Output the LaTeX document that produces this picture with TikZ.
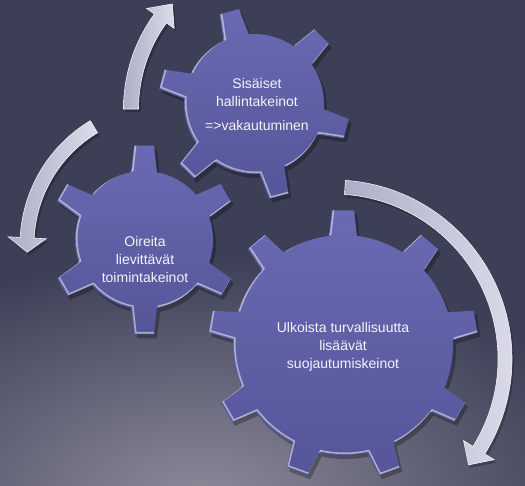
\documentclass[tikz,border=0pt]{standalone}
\usepackage{fontspec}
\setmainfont{Liberation Sans}
\definecolor{bgc}{HTML}{3D3F57}
\definecolor{glowc}{HTML}{8C8C9A}
\definecolor{geartop}{HTML}{6A6AB4}
\definecolor{gearbot}{HTML}{555599}
\definecolor{arrowa}{HTML}{ADADC6}
\definecolor{arrowb}{HTML}{DCDCEA}
\definecolor{txtc}{HTML}{F4F4FA}

% N, r, R, base half-angle, tip half-angle, phase
\newcommand{\gearpath}[6]{({#6-#4}:#2) \foreach \gi [evaluate=\gi as \ga using {#6+(\gi-1)*360/#1}, evaluate=\gi as \gb using {#6+\gi*360/#1}] in {1,...,#1}{ -- ({\ga-#4}:#2) -- ({\ga-#5}:#3) -- ({\ga+#5}:#3) -- ({\ga+#4}:#2) arc[start angle={\ga+#4}, end angle={\gb-#4}, radius=#2] } -- cycle}

% cx, cy, N, r, R, base half-angle, tip half-angle, phase
\newcommand{\drawgear}[8]{%
 \begin{scope}[shift={(#1,#2)}]
  \fill[black, opacity=0.28, shift={(3,-4)}] \gearpath{#3}{#4}{#5}{#6}{#7}{#8};
  \shade[top color=geartop, bottom color=gearbot] \gearpath{#3}{#4}{#5}{#6}{#7}{#8};
  \begin{scope}
   \clip \gearpath{#3}{#4}{#5}{#6}{#7}{#8};
   \draw[white, opacity=0.5, line width=1.6, shift={(1.7,1.7)}] \gearpath{#3}{#4}{#5}{#6}{#7}{#8};
  \end{scope}
 \end{scope}}

% cx, cy, R, w, start, head base, tip, head half-width
\newcommand{\arcarrow}[8]{%
 \begin{scope}[shift={(#1,#2)}]
  \pgfmathsetmacro\aro{#3+#4}
  \pgfmathsetmacro\ari{#3-#4}
  \pgfmathsetmacro\aho{#3+#8}
  \pgfmathsetmacro\ahi{#3-#8}
  \fill[black, opacity=0.25, shift={(2,-3)}] (#5:\aro) arc[start angle=#5, end angle=#6, radius=\aro] -- (#6:\aho) -- (#7:#3) -- (#6:\ahi) -- (#6:\ari) arc[start angle=#6, end angle=#5, radius=\ari] -- cycle;
  \shade[left color=arrowa, right color=arrowb, draw=white!60!arrowb, line width=0.6] (#5:\aro) arc[start angle=#5, end angle=#6, radius=\aro] -- (#6:\aho) -- (#7:#3) -- (#6:\ahi) -- (#6:\ari) arc[start angle=#6, end angle=#5, radius=\ari] -- cycle;
 \end{scope}}

\tikzset{lbl/.style={align=center, text=txtc, inner sep=0pt, font=\fontsize{14}{18}\selectfont}}

\begin{document}
\begin{tikzpicture}[x=1pt, y=1pt]
\useasboundingbox (0,0) rectangle (525,-485);
\begin{scope}
 \clip (0,0) rectangle (525,-485);
 \fill[bgc] (0,0) rectangle (525,-485);
 \shade[inner color=glowc, outer color=bgc] (200,-505) ellipse [x radius=420, y radius=250];
\end{scope}

% arrows
\arcarrow{285}{-109}{154}{7.5}{180}{144}{137}{17}
\arcarrow{165}{-245}{138}{7}{121}{177}{183}{19}
\arcarrow{333}{-359}{172}{7}{86}{-32}{-38}{18}

% gears
\drawgear{254}{-104}{6}{70}{96}{10.7}{6}{105}
\drawgear{144}{-240}{6}{69}{95}{10.8}{6}{90}
\drawgear{343}{-345}{9}{110}{135}{7.3}{4.7}{90}

% texts
\node[lbl] (tsis) at (257,-104) {Sisäiset\\hallintakeinot\\[6pt]=>vakautuminen};
\node[lbl] (toir) at (145,-259) {Oireita\\lievittävät\\toimintakeinot};
\node[lbl] (tulk) at (343,-347) {Ulkoista turvallisuutta\\lisäävät\\suojautumiskeinot};
\end{tikzpicture}
\end{document}
